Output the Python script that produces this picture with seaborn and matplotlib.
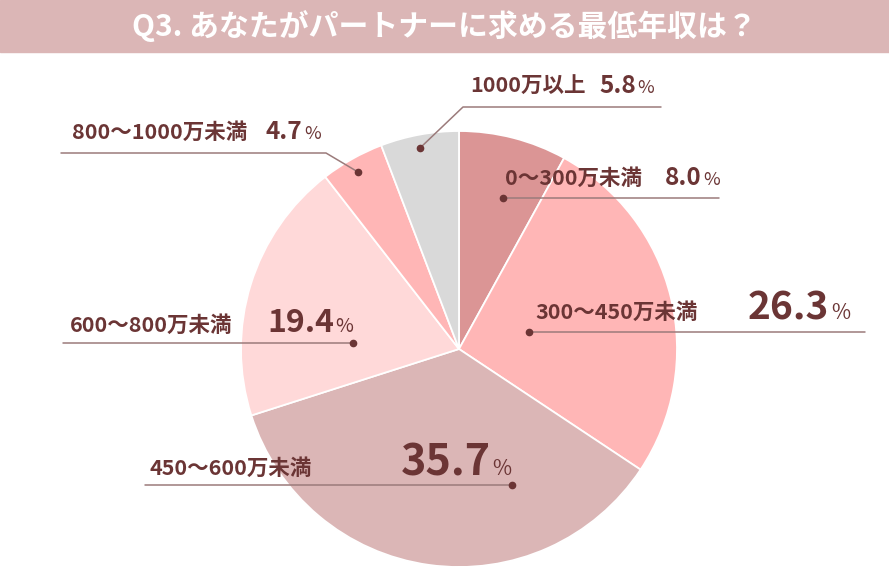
import matplotlib
matplotlib.use("Agg")
import seaborn as sns
from matplotlib import pyplot as plt
from matplotlib.patches import Rectangle

sns.set_theme(style="white")
plt.rcParams['font.family'] = ['Noto Sans CJK JP', 'DejaVu Sans']

# data
labels = ['0～300万未満', '300～450万未満', '450～600万未満',
          '600～800万未満', '800～1000万未満', '1000万以上']
shares = [8.0, 26.3, 35.7, 19.4, 4.7, 5.8]
slice_colors = ['#db9595', '#ffb6b6', '#dbb6b6', '#ffd9d9', '#ffb6b6', '#d9d9d9']
title = 'Q3. あなたがパートナーに求める最低年収は？'

W, H = 889, 580
TXT = '#6b3535'
LINE = '#9b7b7b'

fig = plt.figure(figsize=(W / 100, H / 100), dpi=100)
ax = fig.add_axes([0, 0, 1, 1])

pal = sns.color_palette(slice_colors)
ax.pie(shares, colors=pal, startangle=90, counterclock=False,
       center=(459, H - 349), radius=218,
       wedgeprops=dict(edgecolor='white', linewidth=1.3))
ax.set_xlim(0, W)
ax.set_ylim(0, H)
ax.set_aspect('equal')
ax.axis('off')

# title bar
ax.add_patch(Rectangle((0, H - 52), W, 52, color='#dbb6b6', zorder=5))
ax.text(W / 2, H - 26, title, color='white', fontsize=21.5, fontweight='bold',
        ha='center', va='center', zorder=6)

# label layout in pixel coords (y down):
# leader path, label x, baseline, number x, number size, percent size
layout = [
    ([(503, 198), (719, 198)], 505, 185, 665, 17.5, 13),
    ([(529, 332), (865, 332)], 535, 319, 748, 28, 15),
    ([(512, 485), (145, 485)], 150, 475, 401, 31, 15),
    ([(353, 343), (63, 343)], 70, 332, 267, 23, 14),
    ([(358, 172), (326, 153), (61, 153)], 72, 139, 266, 17.5, 13),
    ([(420, 148), (463, 107), (661, 107)], 470, 93, 599, 17.5, 13),
]

nums = []
for lab, val, (path, lx, base, nx, nsize, psize) in zip(labels, shares, layout):
    xs = [p[0] for p in path]
    ys = [H - p[1] for p in path]
    ax.plot(xs, ys, color=LINE, lw=1.1, zorder=3)
    ax.plot(xs[0], ys[0], 'o', color=TXT, ms=4.5, zorder=4)
    ax.text(lx, H - base, lab, color=TXT, fontsize=15.5, fontweight='bold',
            ha='left', va='baseline', zorder=4)
    t = ax.text(nx, H - base, f'{val:.1f}', color=TXT, fontsize=nsize,
                fontweight='bold', ha='left', va='baseline', zorder=4)
    nums.append((t, base, psize))

# put the percent sign right after each number
fig.canvas.draw()
r = fig.canvas.get_renderer()
for t, base, psize in nums:
    bb = t.get_window_extent(renderer=r)
    ax.text(bb.x1 + 1.5, H - base, '%', color=TXT, fontsize=psize,
            ha='left', va='baseline', zorder=4)

plt.savefig('out.png', dpi=100)
